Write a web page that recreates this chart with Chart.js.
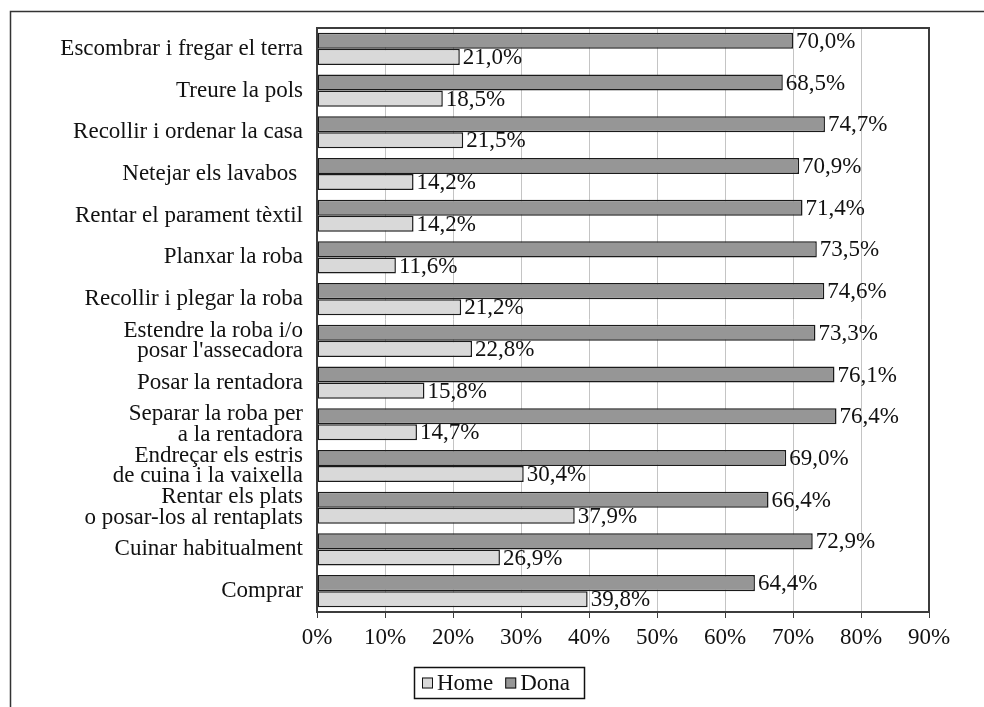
<!DOCTYPE html>
<html>
<head>
<meta charset="utf-8">
<script src="https://cdn.jsdelivr.net/npm/chart.js@4.4.1/dist/chart.umd.min.js"></script>
<style>
  html, body { margin: 0; padding: 0; background: #ffffff; }
  #wrap { width: 984px; height: 707px; position: relative; }
</style>
</head>
<body>
<div id="wrap"><canvas id="c" width="984" height="707"></canvas></div>
<script>
const categories = [
  "Escombrar i fregar el terra",
  "Treure la pols",
  "Recollir i ordenar la casa",
  "Netejar els lavabos ",
  "Rentar el parament tèxtil",
  "Planxar la roba",
  "Recollir i plegar la roba",
  ["Estendre la roba i/o", "posar l'assecadora"],
  "Posar la rentadora",
  ["Separar la roba per", "a la rentadora"],
  ["Endreçar els estris", "de cuina i la vaixella"],
  ["Rentar els plats", "o posar-los al rentaplats"],
  "Cuinar habitualment",
  "Comprar"
];
const donaValues = [70.0, 68.5, 74.7, 70.9, 71.4, 73.5, 74.6, 73.3, 76.1, 76.4, 69.0, 66.4, 72.9, 64.4];
const homeValues = [21.0, 18.5, 21.5, 14.2, 14.2, 11.6, 21.2, 22.8, 15.8, 14.7, 30.4, 37.9, 26.9, 39.8];
const xTicks = [0, 10, 20, 30, 40, 50, 60, 70, 80, 90];
const legendOrder = ["Home", "Dona"];

const FONT = "'Liberation Serif', 'Times New Roman', serif";
const FS = 23;

function fmt(v) { return v.toFixed(1).replace('.', ',') + '%'; }

const decor = {
  id: 'decor',
  afterDatasetsDraw(chart) {
    const ctx = chart.ctx;
    // data labels
    ctx.save();
    ctx.font = FS + 'px ' + FONT;
    ctx.fillStyle = '#111';
    ctx.textAlign = 'left';
    ctx.textBaseline = 'middle';
    chart.data.datasets.forEach((ds, di) => {
      const meta = chart.getDatasetMeta(di);
      meta.data.forEach((bar, i) => {
        ctx.fillText(fmt(ds.data[i]), bar.x + 3, bar.y + 1);
      });
    });
    ctx.restore();
  },
  afterDraw(chart) {
    const ctx = chart.ctx;
    const a = chart.chartArea;
    ctx.save();
    // plot border
    ctx.strokeStyle = '#3c3c3c';
    ctx.lineWidth = 2;
    ctx.strokeRect(a.left, a.top, a.right - a.left, a.bottom - a.top);
    // outer frame
    ctx.lineWidth = 1.5;
    ctx.strokeStyle = '#333';
    ctx.beginPath();
    ctx.moveTo(10.5, 707);
    ctx.lineTo(10.5, 11.5);
    ctx.lineTo(984, 11.5);
    ctx.stroke();
    // legend
    const lx = 414, ly = 667, lw = 170, lh = 31;
    ctx.lineWidth = 1.5;
    ctx.strokeStyle = '#111';
    ctx.strokeRect(lx + 0.5, ly + 0.5, lw, lh);
    ctx.font = FS + 'px ' + FONT;
    ctx.textBaseline = 'middle';
    ctx.textAlign = 'left';
    let x = lx + 8;
    const cy = ly + lh / 2 + 1;
    legendOrder.forEach(name => {
      const ds = chart.data.datasets.find(d => d.label === name);
      ctx.fillStyle = ds.backgroundColor;
      ctx.fillRect(x, cy - 6, 11, 11);
      ctx.lineWidth = 1;
      ctx.strokeStyle = '#111';
      ctx.strokeRect(x + 0.5, cy - 5.5, 10, 10);
      x += 15;
      ctx.fillStyle = '#111';
      ctx.fillText(name, x, cy);
      x += ctx.measureText(name).width + 12;
    });
    ctx.restore();
  }
};

new Chart(document.getElementById('c'), {
  type: 'bar',
  data: {
    labels: categories,
    datasets: [
      {
        label: 'Dona',
        data: donaValues,
        backgroundColor: '#969696',
        borderColor: '#1a1a1a',
        borderWidth: 1.5,
        borderSkipped: false
      },
      {
        label: 'Home',
        data: homeValues,
        backgroundColor: '#d9d9d9',
        borderColor: '#1a1a1a',
        borderWidth: 1.5,
        borderSkipped: false
      }
    ]
  },
  options: {
    indexAxis: 'y',
    responsive: false,
    animation: false,
    devicePixelRatio: 1,
    layout: { padding: { top: 28, right: 55, bottom: 55, left: 0 } },
    datasets: { bar: { barPercentage: 1.0, categoryPercentage: 0.77 } },
    plugins: {
      legend: { display: false },
      tooltip: { enabled: false }
    },
    scales: {
      x: {
        min: 0, max: 90,
        afterBuildTicks(scale) { scale.ticks = xTicks.map(v => ({ value: v })); },
        afterFit(scale) { scale.height = 40; },
        grid: { color: '#c4c4c4', lineWidth: 1, tickColor: '#3c3c3c', tickLength: 6, drawTicks: true },
        border: { display: true, color: '#3c3c3c', width: 2 },
        ticks: {
          color: '#111',
          padding: 6,
          maxRotation: 0,
          font: { family: FONT, size: FS },
          callback: v => v + '%'
        }
      },
      y: {
        afterFit(scale) { scale.width = 317; },
        grid: { display: false, drawTicks: false },
        border: { display: true, color: '#3c3c3c', width: 2 },
        ticks: {
          color: '#111',
          padding: 14,
          autoSkip: false,
          font: { family: FONT, size: FS, lineHeight: 0.9 }
        }
      }
    }
  },
  plugins: [decor]
});
</script>
</body>
</html>
